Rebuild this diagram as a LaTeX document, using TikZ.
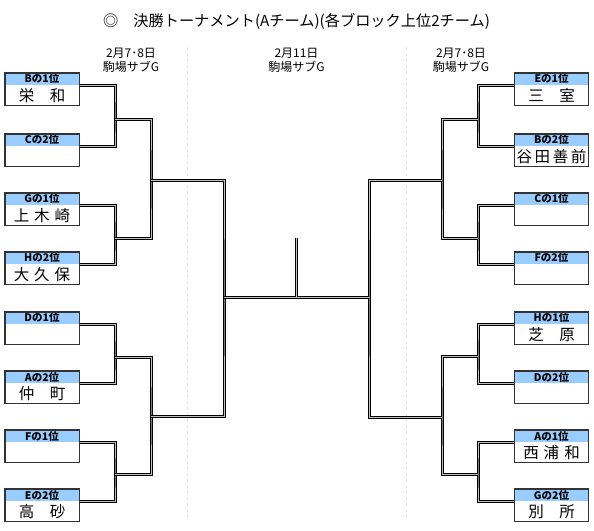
\documentclass[tikz,border=0pt]{standalone}
\usepackage{fontspec}
\setmainfont{Noto Sans CJK JP}
\usetikzlibrary{positioning}
\definecolor{bandblue}{RGB}{153,204,255}

\begin{document}
\begin{tikzpicture}[x=1pt,y=-1pt]

\tikzset{
  rank/.style={
    fill=bandblue,
    minimum width=74pt,
    minimum height=12pt,
    inner sep=0pt,
    font=\fontsize{10.5}{10.5}\selectfont\bfseries
  },
  team/.style={
    minimum width=74pt,
    minimum height=20pt,
    inner sep=0pt,
    font=\fontsize{15.5}{15.5}\selectfont
  },
  frame/.style={draw=black!80, line width=1.4pt},
  link/.style={draw=black, line width=1pt, double=gray!50, double distance=1pt},
  gridline/.style={draw=gray!20, dashed, line width=0.5pt},
  header/.style={align=center, font=\fontsize{12}{14}\selectfont}
}

\useasboundingbox (0,0) rectangle (594,530);

% Gridlines
\draw[gridline] (187,47) -- (187,520);
\draw[gridline] (406,47) -- (406,520);

% Title and headers
\node[font=\fontsize{15.2}{15.2}\selectfont] (title) at (296.5,21) {◎　決勝トーナメント(Aチーム)(各ブロック上位2チーム)};
\node[header] (d1) at (131,60)   {2月7･8日\\駒場サブG};
\node[header] (d2) at (296.5,60) {2月11日\\駒場サブG};
\node[header] (d3) at (461,60)   {2月7･8日\\駒場サブG};

% Junctions left
\coordinate (a1) at (115,119);
\coordinate (a2) at (115,238);
\coordinate (a3) at (115,357);
\coordinate (a4) at (115,474);
\coordinate (b1) at (151,180);
\coordinate (b2) at (151,416);
\coordinate (c1) at (224,297);

% Junctions right
\coordinate (a5) at (478,119);
\coordinate (a6) at (478,238);
\coordinate (a7) at (478,356);
\coordinate (a8) at (478,474);
\coordinate (b3) at (442,180);
\coordinate (b4) at (442,417);
\coordinate (c2) at (369,297);

% Final
\coordinate (fin) at (296.5,238);

% Nodes rank (left)
\node[rank] (r1) at (42,79)  {Bの1位};
\node[rank] (r2) at (42,140) {Cの2位};
\node[rank] (r3) at (42,199) {Gの1位};
\node[rank] (r4) at (42,258) {Hの2位};
\node[rank] (r5) at (42,318) {Dの1位};
\node[rank] (r6) at (42,377) {Aの2位};
\node[rank] (r7) at (42,436) {Fの1位};
\node[rank] (r8) at (42,495) {Eの2位};

% Nodes rank (right)
\node[rank] (r9)  at (551.5,79)  {Eの1位};
\node[rank] (r10) at (551.5,140) {Bの2位};
\node[rank] (r11) at (551.5,199) {Cの1位};
\node[rank] (r12) at (551.5,258) {Fの2位};
\node[rank] (r13) at (551.5,318) {Hの1位};
\node[rank] (r14) at (551.5,377) {Dの2位};
\node[rank] (r15) at (551.5,436) {Aの1位};
\node[rank] (r16) at (551.5,495) {Gの2位};

% Nodes team names
\node[team, below=0pt of r1]  (n1)  {栄　和};
\node[team, below=0pt of r2]  (n2)  {};
\node[team, below=0pt of r3]  (n3)  {上\hspace{5pt}木\hspace{5pt}崎};
\node[team, below=0pt of r4]  (n4)  {大\hspace{5pt}久\hspace{5pt}保};
\node[team, below=0pt of r5]  (n5)  {};
\node[team, below=0pt of r6]  (n6)  {仲　町};
\node[team, below=0pt of r7]  (n7)  {};
\node[team, below=0pt of r8]  (n8)  {高　砂};
\node[team, below=0pt of r9]  (n9)  {三　室};
\node[team, below=0pt of r10] (n10) {谷\,田\,善\,前};
\node[team, below=0pt of r11] (n11) {};
\node[team, below=0pt of r12] (n12) {};
\node[team, below=0pt of r13] (n13) {芝　原};
\node[team, below=0pt of r14] (n14) {};
\node[team, below=0pt of r15] (n15) {西\hspace{5pt}浦\hspace{5pt}和};
\node[team, below=0pt of r16] (n16) {別　所};

% Links round 1
\draw[link] (r1.south east) -| (a1) |- (r2.south east);
\draw[link] (r3.south east) -| (a2) |- (r4.south east);
\draw[link] (r5.south east) -| (a3) |- (r6.south east);
\draw[link] (r7.south east) -| (a4) |- (r8.south east);
\draw[link] (r9.south west)  -| (a5) |- (r10.south west);
\draw[link] (r11.south west) -| (a6) |- (r12.south west);
\draw[link] (r13.south west) -| (a7) |- (r14.south west);
\draw[link] (r15.south west) -| (a8) |- (r16.south west);

% Links round 2
\draw[link] (a1) -| (b1) |- (a2);
\draw[link] (a3) -| (b2) |- (a4);
\draw[link] (a5) -| (b3) |- (a6);
\draw[link] (a7) -| (b4) |- (a8);

% Links semifinal
\draw[link] (b1) -| (c1) |- (b2);
\draw[link] (b3) -| (c2) |- (b4);

% Link final
\draw[link] (c1) -- (c2);
\draw[link] (fin) -- (fin |- c1);

% Frames
\draw[frame] (r1.north west)  rectangle (n1.south east);
\draw[frame] (r2.north west)  rectangle (n2.south east);
\draw[frame] (r3.north west)  rectangle (n3.south east);
\draw[frame] (r4.north west)  rectangle (n4.south east);
\draw[frame] (r5.north west)  rectangle (n5.south east);
\draw[frame] (r6.north west)  rectangle (n6.south east);
\draw[frame] (r7.north west)  rectangle (n7.south east);
\draw[frame] (r8.north west)  rectangle (n8.south east);
\draw[frame] (r9.north west)  rectangle (n9.south east);
\draw[frame] (r10.north west) rectangle (n10.south east);
\draw[frame] (r11.north west) rectangle (n11.south east);
\draw[frame] (r12.north west) rectangle (n12.south east);
\draw[frame] (r13.north west) rectangle (n13.south east);
\draw[frame] (r14.north west) rectangle (n14.south east);
\draw[frame] (r15.north west) rectangle (n15.south east);
\draw[frame] (r16.north west) rectangle (n16.south east);

\end{tikzpicture}
\end{document}
